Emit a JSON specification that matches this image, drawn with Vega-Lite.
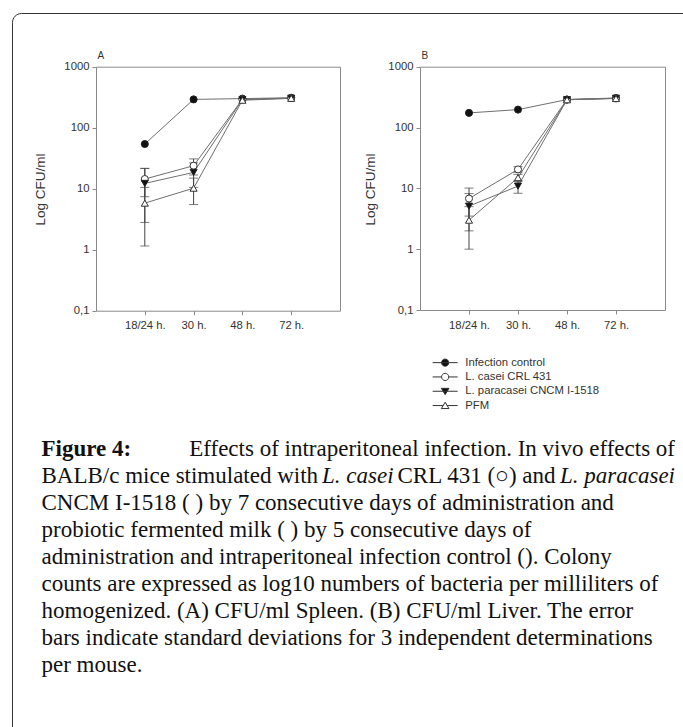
{
  "$schema": "https://vega.github.io/schema/vega-lite/v6.json",
  "width": 700,
  "height": 750,
  "autosize": "none",
  "padding": {"left": 12, "top": 13, "right": -29, "bottom": -36},
  "background": "white",
  "view": {"stroke": "#333333", "strokeWidth": 1, "cornerRadius": 9, "fill": "white"},
  "config": {
    "axis": {
      "domainColor": "#8a8a8a",
      "tickColor": "#8a8a8a",
      "tickSize": 4,
      "labelFont": "Liberation Sans",
      "labelFontSize": 11.3,
      "labelColor": "#333333",
      "titleFont": "Liberation Sans",
      "titleFontWeight": "normal",
      "titleColor": "#333333",
      "grid": false
    },
    "text": {"font": "Liberation Serif", "fontSize": 23, "color": "#111111", "baseline": "alphabetic"}
  },
  "datasets": {
    "cfu": [
      {"panel": "A", "series": "Infection control", "time": "18/24 h.", "value": 54},
      {"panel": "A", "series": "Infection control", "time": "30 h.", "value": 291},
      {"panel": "A", "series": "Infection control", "time": "48 h.", "value": 300},
      {"panel": "A", "series": "Infection control", "time": "72 h.", "value": 310},
      {"panel": "A", "series": "L. casei CRL 431", "time": "18/24 h.", "value": 14.4, "lo": 7.4, "hi": 21.4},
      {"panel": "A", "series": "L. casei CRL 431", "time": "30 h.", "value": 23.8, "lo": 16.8, "hi": 30.8},
      {"panel": "A", "series": "L. casei CRL 431", "time": "48 h.", "value": 292},
      {"panel": "A", "series": "L. casei CRL 431", "time": "72 h.", "value": 306},
      {"panel": "A", "series": "L. paracasei CNCM I-1518", "time": "18/24 h.", "value": 12.2, "lo": 2.8, "hi": 21.6},
      {"panel": "A", "series": "L. paracasei CNCM I-1518", "time": "30 h.", "value": 18.5, "lo": 10.5, "hi": 26.5},
      {"panel": "A", "series": "L. paracasei CNCM I-1518", "time": "48 h.", "value": 288},
      {"panel": "A", "series": "L. paracasei CNCM I-1518", "time": "72 h.", "value": 304},
      {"panel": "A", "series": "PFM", "time": "18/24 h.", "value": 5.8, "lo": 1.15, "hi": 10.5},
      {"panel": "A", "series": "PFM", "time": "30 h.", "value": 10.2, "lo": 5.5, "hi": 14.9},
      {"panel": "A", "series": "PFM", "time": "48 h.", "value": 282},
      {"panel": "A", "series": "PFM", "time": "72 h.", "value": 303},
      {"panel": "B", "series": "Infection control", "time": "18/24 h.", "value": 174},
      {"panel": "B", "series": "Infection control", "time": "30 h.", "value": 197},
      {"panel": "B", "series": "Infection control", "time": "48 h.", "value": 288},
      {"panel": "B", "series": "Infection control", "time": "72 h.", "value": 302},
      {"panel": "B", "series": "L. casei CRL 431", "time": "18/24 h.", "value": 6.8, "lo": 3.5, "hi": 10.1},
      {"panel": "B", "series": "L. casei CRL 431", "time": "30 h.", "value": 20.5, "lo": 18.3, "hi": 22.7},
      {"panel": "B", "series": "L. casei CRL 431", "time": "48 h.", "value": 289},
      {"panel": "B", "series": "L. casei CRL 431", "time": "72 h.", "value": 306},
      {"panel": "B", "series": "L. paracasei CNCM I-1518", "time": "18/24 h.", "value": 5.1, "lo": 2.0, "hi": 8.2},
      {"panel": "B", "series": "L. paracasei CNCM I-1518", "time": "30 h.", "value": 10.9, "lo": 8.3, "hi": 13.5},
      {"panel": "B", "series": "L. paracasei CNCM I-1518", "time": "48 h.", "value": 287},
      {"panel": "B", "series": "L. paracasei CNCM I-1518", "time": "72 h.", "value": 303},
      {"panel": "B", "series": "PFM", "time": "18/24 h.", "value": 3.0, "lo": 1.0, "hi": 5.0},
      {"panel": "B", "series": "PFM", "time": "30 h.", "value": 15, "lo": 13, "hi": 17},
      {"panel": "B", "series": "PFM", "time": "48 h.", "value": 286},
      {"panel": "B", "series": "PFM", "time": "72 h.", "value": 300}
    ],
    "caption": [
      {"line": 1, "part": "head", "text": "Figure 4:"},
      {"line": 1, "part": "lineend", "text": "Effects of intraperitoneal infection. In vivo effects of"},
      {"line": 2, "part": "start", "text": "BALB/c mice stimulated with"},
      {"line": 2, "part": "italic1", "text": "L. casei"},
      {"line": 2, "part": "middle", "text": "CRL 431 (○) and"},
      {"line": 2, "part": "italic2", "text": "L. paracasei"},
      {"line": 3, "part": "body", "text": "CNCM I-1518 ( ) by 7 consecutive days of administration and"},
      {"line": 4, "part": "body", "text": "probiotic fermented milk ( ) by 5 consecutive days of"},
      {"line": 5, "part": "body", "text": "administration and intraperitoneal infection control (). Colony"},
      {"line": 6, "part": "body", "text": "counts are expressed as log10 numbers of bacteria per milliliters of"},
      {"line": 7, "part": "body", "text": "homogenized. (A) CFU/ml Spleen. (B) CFU/ml Liver. The error"},
      {"line": 8, "part": "body", "text": "bars indicate standard deviations for 3 independent determinations"},
      {"line": 9, "part": "body", "text": "per mouse."}
    ]
  },
  "layer": [
    {
      "data": {"name": "cfu"},
      "transform": [{"filter": "datum.panel === 'A'"}],
      "layer": [
        {
          "mark": {"type": "line", "color": "#707070", "strokeWidth": 1},
          "encoding": {
            "x": {"field": "time", "type": "ordinal",
              "scale": {"type": "point", "domain": ["18/24 h.", "30 h.", "48 h.", "72 h."], "range": [84, 328], "padding": 1},
              "axis": {"orient": "bottom", "offset": -452.3, "title": null, "labelAngle": 0, "labelPadding": 5}},
            "y": {"field": "value", "type": "quantitative",
              "scale": {"type": "log", "domain": [0.1, 1000], "range": [297.7, 53.7]},
              "axis": {"orient": "left", "offset": -84, "values": [0.1, 1, 10, 100, 1000],
                "labelExpr": "datum.value < 1 ? '0,1' : format(datum.value, 'd')", "labelPadding": 3,
                "title": "Log CFU/ml", "titleFontSize": 13.5, "titleAngle": 270, "titleX": -55.5, "titleY": 176,
                "titleAlign": "center", "titleBaseline": "middle"}},
            "detail": {"field": "series"}
          }
        },
        {
          "transform": [{"filter": "isValid(datum.lo)"}],
          "mark": {"type": "rule", "color": "#444444", "strokeWidth": 1},
          "encoding": {
            "x": {"field": "time", "type": "ordinal",
              "axis": {"orient": "top", "offset": -53.7, "ticks": false, "labels": false, "title": "A",
                "titleX": 85, "titleY": -8, "titleAlign": "left", "titleBaseline": "alphabetic", "titleFontSize": 10, "titleAngle": 0}},
            "y": {"field": "lo", "type": "quantitative",
              "axis": {"orient": "right", "offset": -372, "ticks": false, "labels": false, "title": null}},
            "y2": {"field": "hi"}
          }
        },
        {
          "transform": [{"filter": "isValid(datum.lo)"}],
          "mark": {"type": "tick", "color": "#444444", "size": 9, "thickness": 1},
          "encoding": {
            "x": {"field": "time", "type": "ordinal", "axis": null},
            "y": {"field": "lo", "type": "quantitative", "axis": null}
          }
        },
        {
          "transform": [{"filter": "isValid(datum.hi)"}],
          "mark": {"type": "tick", "color": "#444444", "size": 9, "thickness": 1},
          "encoding": {
            "x": {"field": "time", "type": "ordinal", "axis": null},
            "y": {"field": "hi", "type": "quantitative", "axis": null}
          }
        },
        {
          "transform": [{"filter": "datum.series === 'Infection control'"}],
          "mark": {"type": "point", "shape": "circle", "filled": true, "size": 50, "fill": "#111111", "stroke": "#222222", "strokeWidth": 1, "opacity": 1},
          "encoding": {"x": {"field": "time", "type": "ordinal", "axis": null}, "y": {"field": "value", "type": "quantitative", "axis": null}}
        },
        {
          "transform": [{"filter": "datum.series === 'L. casei CRL 431'"}],
          "mark": {"type": "point", "shape": "circle", "filled": true, "size": 50, "fill": "#ffffff", "stroke": "#333333", "strokeWidth": 1, "opacity": 1},
          "encoding": {"x": {"field": "time", "type": "ordinal", "axis": null}, "y": {"field": "value", "type": "quantitative", "axis": null}}
        },
        {
          "transform": [{"filter": "datum.series === 'L. paracasei CNCM I-1518'"}],
          "mark": {"type": "point", "shape": "triangle-down", "filled": true, "size": 50, "fill": "#111111", "stroke": "#222222", "strokeWidth": 1, "opacity": 1},
          "encoding": {"x": {"field": "time", "type": "ordinal", "axis": null}, "y": {"field": "value", "type": "quantitative", "axis": null}}
        },
        {
          "transform": [{"filter": "datum.series === 'PFM'"}],
          "mark": {"type": "point", "shape": "triangle-up", "filled": true, "size": 50, "fill": "#ffffff", "stroke": "#333333", "strokeWidth": 1, "opacity": 1},
          "encoding": {"x": {"field": "time", "type": "ordinal", "axis": null}, "y": {"field": "value", "type": "quantitative", "axis": null}}
        }
      ],
      "resolve": {"axis": {"x": "independent", "y": "independent"}}
    },
    {
      "data": {"name": "cfu"},
      "transform": [{"filter": "datum.panel === 'B'"}],
      "layer": [
        {
          "mark": {"type": "line", "color": "#707070", "strokeWidth": 1},
          "encoding": {
            "x": {"field": "time", "type": "ordinal",
              "scale": {"type": "point", "domain": ["18/24 h.", "30 h.", "48 h.", "72 h."], "range": [408, 653], "padding": 1},
              "axis": {"orient": "bottom", "offset": -453, "title": null, "labelAngle": 0, "labelPadding": 5}},
            "y": {"field": "value", "type": "quantitative",
              "scale": {"type": "log", "domain": [0.1, 1000], "range": [297, 53.7]},
              "axis": {"orient": "left", "offset": -408, "values": [0.1, 1, 10, 100, 1000],
                "labelExpr": "datum.value < 1 ? '0,1' : format(datum.value, 'd')", "labelPadding": 3,
                "title": "Log CFU/ml", "titleFontSize": 13.5, "titleAngle": 270, "titleX": -50, "titleY": 176,
                "titleAlign": "center", "titleBaseline": "middle"}},
            "detail": {"field": "series"}
          }
        },
        {
          "transform": [{"filter": "isValid(datum.lo)"}],
          "mark": {"type": "rule", "color": "#444444", "strokeWidth": 1},
          "encoding": {
            "x": {"field": "time", "type": "ordinal",
              "axis": {"orient": "top", "offset": -53.7, "ticks": false, "labels": false, "title": "B",
                "titleX": 409, "titleY": -8, "titleAlign": "left", "titleBaseline": "alphabetic", "titleFontSize": 10, "titleAngle": 0}},
            "y": {"field": "lo", "type": "quantitative",
              "axis": {"orient": "right", "offset": -47, "ticks": false, "labels": false, "title": null}},
            "y2": {"field": "hi"}
          }
        },
        {
          "transform": [{"filter": "isValid(datum.lo)"}],
          "mark": {"type": "tick", "color": "#444444", "size": 9, "thickness": 1},
          "encoding": {
            "x": {"field": "time", "type": "ordinal", "axis": null},
            "y": {"field": "lo", "type": "quantitative", "axis": null}
          }
        },
        {
          "transform": [{"filter": "isValid(datum.hi)"}],
          "mark": {"type": "tick", "color": "#444444", "size": 9, "thickness": 1},
          "encoding": {
            "x": {"field": "time", "type": "ordinal", "axis": null},
            "y": {"field": "hi", "type": "quantitative", "axis": null}
          }
        },
        {
          "transform": [{"filter": "datum.series === 'Infection control'"}],
          "mark": {"type": "point", "shape": "circle", "filled": true, "size": 50, "fill": "#111111", "stroke": "#222222", "strokeWidth": 1, "opacity": 1},
          "encoding": {"x": {"field": "time", "type": "ordinal", "axis": null}, "y": {"field": "value", "type": "quantitative", "axis": null}}
        },
        {
          "transform": [{"filter": "datum.series === 'L. casei CRL 431'"}],
          "mark": {"type": "point", "shape": "circle", "filled": true, "size": 50, "fill": "#ffffff", "stroke": "#333333", "strokeWidth": 1, "opacity": 1},
          "encoding": {"x": {"field": "time", "type": "ordinal", "axis": null}, "y": {"field": "value", "type": "quantitative", "axis": null}}
        },
        {
          "transform": [{"filter": "datum.series === 'L. paracasei CNCM I-1518'"}],
          "mark": {"type": "point", "shape": "triangle-down", "filled": true, "size": 50, "fill": "#111111", "stroke": "#222222", "strokeWidth": 1, "opacity": 1},
          "encoding": {"x": {"field": "time", "type": "ordinal", "axis": null}, "y": {"field": "value", "type": "quantitative", "axis": null}}
        },
        {
          "transform": [{"filter": "datum.series === 'PFM'"}],
          "mark": {"type": "point", "shape": "triangle-up", "filled": true, "size": 50, "fill": "#ffffff", "stroke": "#333333", "strokeWidth": 1, "opacity": 1},
          "encoding": {"x": {"field": "time", "type": "ordinal", "axis": null}, "y": {"field": "value", "type": "quantitative", "axis": null}}
        }
      ],
      "resolve": {"axis": {"x": "independent", "y": "independent"}}
    },
    {
      "data": {"name": "cfu"},
      "transform": [{"filter": "false"}],
      "mark": {"type": "point", "filled": true, "opacity": 1, "strokeWidth": 1},
      "encoding": {
        "shape": {"field": "series", "type": "nominal",
          "scale": {"domain": ["Infection control", "L. casei CRL 431", "L. paracasei CNCM I-1518", "PFM"],
            "range": [
              "M-2.5,0L2.5,0M0.72,0A0.72,0.72,0,1,1,-0.72,0A0.72,0.72,0,1,1,0.72,0Z",
              "M-2.5,0L-0.72,0M0.72,0L2.5,0M0.72,0A0.72,0.72,0,1,1,-0.72,0A0.72,0.72,0,1,1,0.72,0Z",
              "M-2.5,0L2.5,0M-0.76,-0.58L0.76,-0.58L0,0.68Z",
              "M-2.5,0L-0.38,0M0.38,0L2.5,0M0,-0.66L0.76,0.6L-0.76,0.6Z"
            ]},
          "legend": {"orient": "none", "legendX": 427.5, "legendY": 344, "title": null, "symbolSize": 100, "labelOffset": 14.5, "rowPadding": 1.3, "padding": 0,
            "labelFont": "Liberation Sans", "labelFontSize": 11.3, "labelColor": "#333333", "symbolStrokeWidth": 1, "symbolOpacity": 1}},
        "fill": {"field": "series", "type": "nominal",
          "scale": {"domain": ["Infection control", "L. casei CRL 431", "L. paracasei CNCM I-1518", "PFM"], "range": ["#111111", "#ffffff", "#111111", "#ffffff"]}},
        "stroke": {"field": "series", "type": "nominal",
          "scale": {"domain": ["Infection control", "L. casei CRL 431", "L. paracasei CNCM I-1518", "PFM"], "range": ["#333333", "#333333", "#333333", "#333333"]}}
      }
    },
    {
      "data": {"name": "caption"},
      "encoding": {
        "y": {"field": "line", "type": "quantitative", "scale": {"domain": [1, 9], "range": [443, 659]}, "axis": null},
        "text": {"field": "text"}
      },
      "layer": [
        {
          "transform": [{"filter": "datum.part === 'head'"}],
          "mark": {"type": "text", "align": "left", "fontWeight": "bold"},
          "encoding": {"x": {"value": 29.5}}
        },
        {
          "transform": [{"filter": "datum.part === 'lineend'"}],
          "mark": {"type": "text", "align": "right"},
          "encoding": {"x": {"value": 663}}
        },
        {
          "transform": [{"filter": "datum.part === 'start' || datum.part === 'body'"}],
          "mark": {"type": "text", "align": "left"},
          "encoding": {"x": {"value": 29.5}}
        },
        {
          "transform": [{"filter": "datum.part === 'italic1'"}],
          "mark": {"type": "text", "align": "left", "fontStyle": "italic"},
          "encoding": {"x": {"value": 310}}
        },
        {
          "transform": [{"filter": "datum.part === 'middle'"}],
          "mark": {"type": "text", "align": "left"},
          "encoding": {"x": {"value": 385.5}}
        },
        {
          "transform": [{"filter": "datum.part === 'italic2'"}],
          "mark": {"type": "text", "align": "right", "fontStyle": "italic"},
          "encoding": {"x": {"value": 663}}
        }
      ]
    }
  ],
  "resolve": {"scale": {"x": "independent", "y": "independent"}, "axis": {"x": "independent", "y": "independent"}}
}
